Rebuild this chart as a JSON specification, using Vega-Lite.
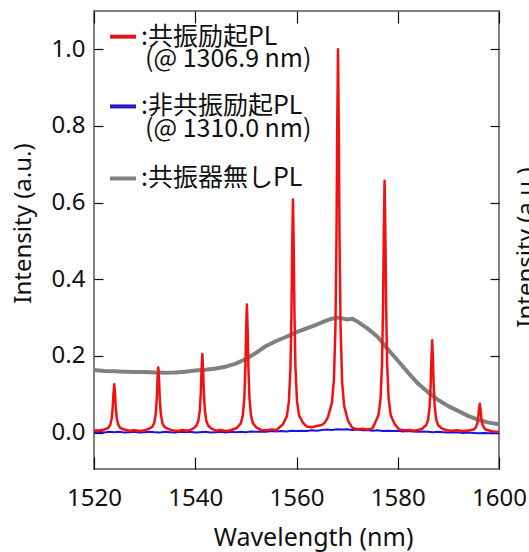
{
  "$schema": "https://vega.github.io/schema/vega-lite/v6.json",
  "width": 405,
  "height": 458,
  "autosize": {"type": "none"},
  "padding": {"left": 94, "top": 11, "right": 30, "bottom": 83},
  "background": "white",
  "config": {
    "view": {"stroke": "#808080", "strokeWidth": 2},
    "axis": {"grid": false, "domain": false, "tickColor": "#111111", "tickWidth": 1.2, "labelColor": "#111111", "titleColor": "#111111", "labelFont": "Noto Sans", "titleFont": "Noto Sans", "titleFontWeight": "normal"}
  },
  "datasets": {
    "red": [
      {"x":1520,"y":0.004},{"x":1520.5,"y":0.006},{"x":1521,"y":0.005},{"x":1521.5,"y":0.007},{"x":1522,"y":0.008},
      {"x":1522.8,"y":0.012},{"x":1523.2,"y":0.020},{"x":1523.5,"y":0.037},{"x":1523.7,"y":0.066},{"x":1523.85,"y":0.102},{"x":1524,"y":0.126},{"x":1524.15,"y":0.102},{"x":1524.3,"y":0.066},{"x":1524.5,"y":0.037},{"x":1524.8,"y":0.020},{"x":1525.2,"y":0.012},{"x":1526,"y":0.008},
      {"x":1527,"y":0.005},{"x":1528,"y":0.006},{"x":1529,"y":0.004},{"x":1530,"y":0.006},
      {"x":1530.7,"y":0.009},{"x":1531.5,"y":0.015},{"x":1531.9,"y":0.025},{"x":1532.2,"y":0.049},{"x":1532.4,"y":0.0875},{"x":1532.55,"y":0.137},{"x":1532.7,"y":0.170},{"x":1532.85,"y":0.137},{"x":1533,"y":0.0875},{"x":1533.2,"y":0.049},{"x":1533.5,"y":0.025},{"x":1533.9,"y":0.015},{"x":1534.7,"y":0.009},
      {"x":1535.5,"y":0.006},{"x":1536.5,"y":0.004},{"x":1537.5,"y":0.007},{"x":1538.5,"y":0.005},
      {"x":1539.4,"y":0.009},{"x":1540.2,"y":0.017},{"x":1540.6,"y":0.030},{"x":1540.9,"y":0.058},{"x":1541.1,"y":0.105},{"x":1541.25,"y":0.165},{"x":1541.4,"y":0.205},{"x":1541.55,"y":0.165},{"x":1541.7,"y":0.105},{"x":1541.9,"y":0.058},{"x":1542.2,"y":0.030},{"x":1542.6,"y":0.017},{"x":1543.4,"y":0.009},
      {"x":1544.2,"y":0.005},{"x":1545,"y":0.007},{"x":1546,"y":0.004},{"x":1547,"y":0.006},
      {"x":1548.2,"y":0.012},{"x":1549,"y":0.024},{"x":1549.4,"y":0.045},{"x":1549.7,"y":0.092},{"x":1549.9,"y":0.170},{"x":1550.05,"y":0.268},{"x":1550.2,"y":0.334},{"x":1550.35,"y":0.268},{"x":1550.5,"y":0.170},{"x":1550.7,"y":0.092},{"x":1551,"y":0.045},{"x":1551.4,"y":0.024},{"x":1552.2,"y":0.012},
      {"x":1553,"y":0.007},{"x":1554,"y":0.006},{"x":1555,"y":0.008},{"x":1556,"y":0.007},
      {"x":1557.3,"y":0.021},{"x":1558.1,"y":0.043},{"x":1558.5,"y":0.082},{"x":1558.8,"y":0.167},{"x":1559,"y":0.308},{"x":1559.15,"y":0.488},{"x":1559.3,"y":0.608},{"x":1559.45,"y":0.488},{"x":1559.6,"y":0.308},{"x":1559.8,"y":0.167},{"x":1560.1,"y":0.082},{"x":1560.5,"y":0.045},{"x":1561.3,"y":0.025},
      {"x":1562,"y":0.016},{"x":1563,"y":0.014},{"x":1564,"y":0.017},{"x":1565,"y":0.020},{"x":1565.6,"y":0.026},
      {"x":1566.2,"y":0.04},{"x":1567,"y":0.078},{"x":1567.4,"y":0.14},{"x":1567.7,"y":0.28},{"x":1567.9,"y":0.51},{"x":1568.05,"y":0.80},{"x":1568.2,"y":1.0},{"x":1568.35,"y":0.80},{"x":1568.5,"y":0.51},{"x":1568.7,"y":0.28},{"x":1569,"y":0.135},{"x":1569.4,"y":0.07},{"x":1570.2,"y":0.03},
      {"x":1571,"y":0.013},{"x":1572,"y":0.009},{"x":1573,"y":0.010},{"x":1574,"y":0.008},{"x":1575,"y":0.011},
      {"x":1575.4,"y":0.022},{"x":1576.2,"y":0.046},{"x":1576.6,"y":0.088},{"x":1576.9,"y":0.180},{"x":1577.1,"y":0.333},{"x":1577.25,"y":0.527},{"x":1577.4,"y":0.657},{"x":1577.55,"y":0.527},{"x":1577.7,"y":0.333},{"x":1577.9,"y":0.180},{"x":1578.2,"y":0.088},{"x":1578.6,"y":0.046},{"x":1579.4,"y":0.022},
      {"x":1580.3,"y":0.008},{"x":1581.3,"y":0.006},{"x":1582.3,"y":0.007},{"x":1583.3,"y":0.005},{"x":1584,"y":0.007},
      {"x":1584.8,"y":0.010},{"x":1585.6,"y":0.019},{"x":1586,"y":0.034},{"x":1586.3,"y":0.068},{"x":1586.5,"y":0.123},{"x":1586.65,"y":0.194},{"x":1586.8,"y":0.241},{"x":1586.95,"y":0.194},{"x":1587.1,"y":0.123},{"x":1587.3,"y":0.068},{"x":1587.6,"y":0.034},{"x":1588,"y":0.019},{"x":1588.8,"y":0.010},
      {"x":1589.7,"y":0.006},{"x":1590.7,"y":0.005},{"x":1591.7,"y":0.006},{"x":1592.7,"y":0.004},{"x":1593.5,"y":0.005},
      {"x":1594.2,"y":0.006},{"x":1595,"y":0.008},{"x":1595.4,"y":0.013},{"x":1595.7,"y":0.023},{"x":1595.9,"y":0.0395},{"x":1596.05,"y":0.061},{"x":1596.2,"y":0.075},{"x":1596.35,"y":0.061},{"x":1596.5,"y":0.0395},{"x":1596.7,"y":0.023},{"x":1597,"y":0.013},{"x":1597.4,"y":0.008},{"x":1598.2,"y":0.005},
      {"x":1599,"y":0.003},{"x":1600,"y":0.002}
    ],
    "blue": [
      {"x":1520,"y":0.001},{"x":1521,"y":0.002},{"x":1522,"y":0.0},{"x":1523,"y":0.002},{"x":1524,"y":0.001},{"x":1525,"y":0.002},{"x":1526,"y":0.0},{"x":1527,"y":0.001},{"x":1528,"y":0.002},{"x":1529,"y":0.0},{"x":1530,"y":0.001},
      {"x":1531,"y":0.002},{"x":1532,"y":0.001},{"x":1533,"y":0.0},{"x":1534,"y":0.002},{"x":1535,"y":0.001},{"x":1536,"y":0.0},{"x":1537,"y":0.002},{"x":1538,"y":0.001},{"x":1539,"y":0.002},{"x":1540,"y":0.0},
      {"x":1541,"y":0.001},{"x":1542,"y":0.002},{"x":1543,"y":0.0},{"x":1544,"y":0.001},{"x":1545,"y":0.002},{"x":1546,"y":0.0},{"x":1547,"y":0.002},{"x":1548,"y":0.001},{"x":1549,"y":0.002},{"x":1550,"y":0.001},
      {"x":1551,"y":0.003},{"x":1552,"y":0.002},{"x":1553,"y":0.003},{"x":1554,"y":0.002},{"x":1555,"y":0.004},{"x":1556,"y":0.003},{"x":1557,"y":0.004},{"x":1558,"y":0.003},{"x":1559,"y":0.005},{"x":1560,"y":0.004},
      {"x":1561,"y":0.005},{"x":1562,"y":0.004},{"x":1563,"y":0.006},{"x":1564,"y":0.005},{"x":1565,"y":0.007},{"x":1566,"y":0.008},{"x":1567,"y":0.007},{"x":1568,"y":0.009},{"x":1569,"y":0.008},{"x":1570,"y":0.009},
      {"x":1571,"y":0.007},{"x":1572,"y":0.008},{"x":1573,"y":0.006},{"x":1574,"y":0.007},{"x":1575,"y":0.005},{"x":1576,"y":0.006},{"x":1577,"y":0.004},{"x":1578,"y":0.005},{"x":1579,"y":0.004},{"x":1580,"y":0.005},
      {"x":1581,"y":0.003},{"x":1582,"y":0.004},{"x":1583,"y":0.003},{"x":1584,"y":0.002},{"x":1585,"y":0.003},{"x":1586,"y":0.002},{"x":1587,"y":0.001},{"x":1588,"y":0.002},{"x":1589,"y":0.001},{"x":1590,"y":0.0},
      {"x":1591,"y":0.001},{"x":1592,"y":0.0},{"x":1593,"y":-0.001},{"x":1594,"y":0.0},{"x":1595,"y":-0.001},{"x":1596,"y":-0.002},{"x":1597,"y":-0.001},{"x":1598,"y":-0.002},{"x":1599,"y":-0.001},{"x":1600,"y":-0.002}
    ],
    "gray": [
      {"x":1520,"y":0.163},{"x":1522,"y":0.161},{"x":1524,"y":0.160},{"x":1526,"y":0.159},{"x":1528,"y":0.158},{"x":1530,"y":0.158},{"x":1532,"y":0.157},{"x":1534,"y":0.156},{"x":1536,"y":0.157},{"x":1538,"y":0.159},
      {"x":1540,"y":0.162},{"x":1542,"y":0.164},{"x":1544,"y":0.167},{"x":1546,"y":0.172},{"x":1548,"y":0.180},{"x":1550,"y":0.192},{"x":1552,"y":0.208},{"x":1554,"y":0.226},{"x":1556,"y":0.239},{"x":1558,"y":0.250},
      {"x":1560,"y":0.262},{"x":1562,"y":0.272},{"x":1564,"y":0.282},{"x":1566,"y":0.293},{"x":1567,"y":0.297},{"x":1568,"y":0.300},{"x":1569,"y":0.298},{"x":1570,"y":0.295},{"x":1571,"y":0.297},{"x":1572,"y":0.290},
      {"x":1574,"y":0.272},{"x":1576,"y":0.250},{"x":1578,"y":0.218},{"x":1580,"y":0.188},{"x":1582,"y":0.157},{"x":1584,"y":0.128},{"x":1586,"y":0.105},{"x":1588,"y":0.085},{"x":1590,"y":0.069},{"x":1592,"y":0.056},
      {"x":1594,"y":0.043},{"x":1596,"y":0.033},{"x":1598,"y":0.026},{"x":1600,"y":0.022}
    ],
    "legendLines": [
      {"series":"共振励起PL","x1":1523.16,"x2":1528.3,"y":1.033},
      {"series":"非共振励起PL","x1":1523.16,"x2":1528.3,"y":0.851},
      {"series":"共振器無しPL","x1":1523.16,"x2":1528.3,"y":0.663}
    ],
    "legendText": [
      {"x":1529.28,"y":1.033,"t":":共振励起PL"},
      {"x":1530.07,"y":0.976,"t":"(@ 1306.9 nm)"},
      {"x":1529.28,"y":0.851,"t":":非共振励起PL"},
      {"x":1530.07,"y":0.793,"t":"(@ 1310.0 nm)"},
      {"x":1529.28,"y":0.663,"t":":共振器無しPL"}
    ]
  },
  "resolve": {"axis": {"x": "independent", "y": "independent"}},
  "layer": [
    {
      "data": {"name": "gray"},
      "mark": {"type": "line", "color": "#808080", "strokeWidth": 4, "strokeJoin": "round"},
      "encoding": {
        "x": {"field": "x", "type": "quantitative", "scale": {"domain": [1520, 1600], "nice": false, "zero": false},
          "axis": {"orient": "bottom", "values": [1520, 1540, 1560, 1580, 1600], "format": "d", "tickSize": -12, "labelPadding": 29, "labelFontSize": 24, "labelFlush": false,
            "title": "Wavelength (nm)", "titleFontSize": 25, "titleX": 219, "titleY": 68, "titleBaseline": "middle", "titleAlign": "center", "titleAnchor": null}},
        "y": {"field": "y", "type": "quantitative", "scale": {"domain": [-0.095, 1.1], "nice": false, "zero": false},
          "axis": {"orient": "left", "values": [0, 0.2, 0.4, 0.6, 0.8, 1.0], "format": ".1f", "tickSize": -9, "labelPadding": 18, "labelFontSize": 24, "labelBaseline": "middle",
            "title": "Intensity (a.u.)", "titleFontSize": 24, "titleAngle": -90, "titleX": -71, "titleY": 212, "titleBaseline": "middle", "titleAlign": "center", "titleAnchor": null}}
      }
    },
    {
      "data": {"name": "blue"},
      "mark": {"type": "line", "color": "#1a14e0", "strokeWidth": 2, "strokeJoin": "round"},
      "encoding": {
        "x": {"field": "x", "type": "quantitative",
          "axis": {"orient": "top", "values": [1520, 1540, 1560, 1580, 1600], "tickSize": -12, "labels": false, "title": null}},
        "y": {"field": "y", "type": "quantitative",
          "axis": {"orient": "right", "values": [0, 0.2, 0.4, 0.6, 0.8, 1.0], "tickSize": -9, "labels": false,
            "title": "Intensity (a.u.)", "titleFontSize": 24, "titleAngle": -90, "titleX": 27, "titleY": 236, "titleBaseline": "middle", "titleAlign": "center", "titleAnchor": null}}
      }
    },
    {
      "data": {"name": "red"},
      "mark": {"type": "line", "color": "#f21010", "strokeWidth": 2.5, "strokeJoin": "round"},
      "encoding": {
        "x": {"field": "x", "type": "quantitative", "axis": null},
        "y": {"field": "y", "type": "quantitative", "axis": null}
      }
    },
    {
      "data": {"name": "legendLines"},
      "mark": {"type": "rule", "strokeWidth": 4},
      "encoding": {
        "x": {"field": "x1", "type": "quantitative", "axis": null},
        "x2": {"field": "x2"},
        "y": {"field": "y", "type": "quantitative", "axis": null},
        "color": {"field": "series", "type": "nominal", "scale": {"domain": ["共振励起PL", "非共振励起PL", "共振器無しPL"], "range": ["#e8141c", "#2a18c0", "#808080"]}, "legend": null}
      }
    },
    {
      "data": {"name": "legendText"},
      "mark": {"type": "text", "align": "left", "baseline": "middle", "font": "Noto Sans CJK JP", "fontSize": 25, "color": "#111111"},
      "encoding": {
        "x": {"field": "x", "type": "quantitative", "axis": null},
        "y": {"field": "y", "type": "quantitative", "axis": null},
        "text": {"field": "t"}
      }
    }
  ]
}
